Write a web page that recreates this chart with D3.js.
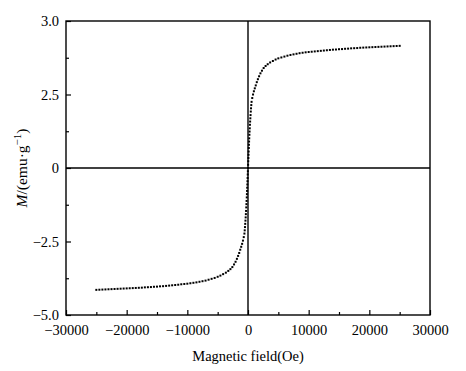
<!DOCTYPE html>
<html>
<head>
<meta charset="utf-8">
<script src="https://cdn.jsdelivr.net/npm/d3@7"></script>
<style>
  body { margin: 0; background: #fff; }
  svg { display: block; }
  text { font-family: "Liberation Serif", "Times New Roman", serif; fill: #000; }
</style>
</head>
<body>
<svg id="chart" width="466" height="371"></svg>
<script>
// measured loop, field in Oe, magnetisation in emu/g
const fieldNeg = [-25000, -24500, -24000, -23500, -23000, -22500, -22000, -21500, -21000, -20500,
    -20000, -19500, -19000, -18500, -18000, -17500, -17000, -16500, -16000, -15500,
    -15000, -14500, -14000, -13500, -13000, -12500, -12000, -11500, -11000, -10500,
    -10000, -9500, -9000, -8500, -8000, -7500, -7000, -6500, -6000, -5500,
    -5000, -4550, -4100, -3650, -3250, -2900, -2580, -2300, -2050, -1830,
    -1630, -1450, -1280, -1120, -970, -830, -700, -588, -540, -497,
    -458, -418, -383, -350, -319, -287, -258, -231, -203, -178,
    -154, -131, -107, -85, -63, -42, -20];
const momentNeg = [-4.145, -4.14, -4.135, -4.13, -4.125, -4.12, -4.115, -4.11, -4.105, -4.10,
    -4.095, -4.09, -4.085, -4.08, -4.075, -4.07, -4.06, -4.055, -4.05, -4.04,
    -4.035, -4.025, -4.02, -4.01, -4.00, -3.99, -3.98, -3.97, -3.955, -3.945,
    -3.935, -3.92, -3.905, -3.89, -3.87, -3.85, -3.83, -3.80, -3.77, -3.74,
    -3.70, -3.66, -3.61, -3.56, -3.50, -3.44, -3.37, -3.28, -3.19, -3.09,
    -2.99, -2.89, -2.78, -2.68, -2.58, -2.47, -2.35, -2.23, -2.12, -2.01,
    -1.90, -1.79, -1.68, -1.57, -1.46, -1.34, -1.23, -1.12, -1.00, -0.89,
    -0.78, -0.67, -0.56, -0.45, -0.34, -0.22, -0.11];

const fieldPos = [0, 20, 42, 63, 85, 107, 131, 154, 178, 203,
    231, 258, 287, 319, 350, 383, 418, 458, 497, 540,
    588, 700, 830, 970, 1120, 1280, 1450, 1630, 1830, 2050,
    2300, 2580, 2900, 3250, 3650, 4100, 4550, 5000, 5500, 6000,
    6500, 7000, 7500, 8000, 8500, 9000, 9500, 10000, 10500, 11000,
    11500, 12000, 12500, 13000, 13500, 14000, 14500, 15000, 15500, 16000,
    16500, 17000, 17500, 18000, 18500, 19000, 19500, 20000, 20500, 21000,
    21500, 22000, 22500, 23000, 23500, 24000, 24500, 25000];
const momentPos = [0, 0.11, 0.23, 0.34, 0.45, 0.56, 0.68, 0.79, 0.90, 1.01,
    1.13, 1.24, 1.35, 1.47, 1.58, 1.69, 1.80, 1.92, 2.03, 2.14,
    2.25, 2.38, 2.50, 2.61, 2.71, 2.81, 2.92, 3.02, 3.12, 3.22,
    3.31, 3.40, 3.47, 3.53, 3.59, 3.64, 3.69, 3.73, 3.76, 3.79,
    3.82, 3.845, 3.865, 3.885, 3.905, 3.92, 3.935, 3.945, 3.955, 3.965,
    3.975, 3.985, 3.995, 4.005, 4.015, 4.025, 4.03, 4.04, 4.045, 4.055,
    4.06, 4.07, 4.075, 4.08, 4.09, 4.095, 4.10, 4.105, 4.11, 4.115,
    4.12, 4.125, 4.13, 4.135, 4.14, 4.145, 4.15, 4.155];

// axis ticks (the top label reads 3.0 in the original figure)
const xTicks = [-30000, -20000, -10000, 0, 10000, 20000, 30000];
const xTickLabels = ["\u221230000", "\u221220000", "\u221210000", "0", "10000", "20000", "30000"];
const xMinor = [-25000, -15000, -5000, 5000, 15000, 25000];
const yTicks = [-5, -2.5, 0, 2.5, 5];
const yTickLabels = ["\u22125.0", "\u22122.5", "0", "2.5", "3.0"];
const yMinor = [-3.75, -1.25, 1.25, 3.75];

const points = fieldNeg.map((h, i) => ({ h: h, m: momentNeg[i] }))
    .concat(fieldPos.map((h, i) => ({ h: h, m: momentPos[i] })));

const plotLeft = 66, plotRight = 430, plotTop = 21, plotBottom = 315;

const svg = d3.select("#chart");

let x = d3.scaleLinear().domain([-30000, 30000]).range([plotLeft, plotRight]);
let y = d3.scaleLinear().domain([-5, 5]).range([plotBottom, plotTop]);

// bottom axis, ticks pointing in
svg.append("g")
    .attr("transform", "translate(0," + plotBottom + ")")
    .call(d3.axisBottom(x)
        .tickValues(xTicks)
        .tickSize(-5)
        .tickPadding(10)
        .tickFormat((d, i) => xTickLabels[i]));

svg.append("g")
    .attr("transform", "translate(0," + plotBottom + ")")
    .call(d3.axisBottom(x).tickValues(xMinor).tickSize(-3).tickFormat(""));

svg.append("g")
    .attr("transform", "translate(" + plotLeft + ",0)")
    .call(d3.axisLeft(y)
        .tickValues(yTicks)
        .tickSize(-5)
        .tickPadding(7)
        .tickFormat((d, i) => yTickLabels[i]));

svg.append("g")
    .attr("transform", "translate(" + plotLeft + ",0)")
    .call(d3.axisLeft(y).tickValues(yMinor).tickSize(-3).tickFormat(""));

svg.selectAll(".domain").remove();
svg.selectAll(".tick line").attr("stroke", "#000").attr("stroke-width", 1.2);
svg.selectAll(".tick text")
    .style("font-family", "'Liberation Serif', serif")
    .style("font-size", "14.5px")
    .attr("fill", "#111");

// frame
svg.append("rect")
    .attr("x", plotLeft)
    .attr("y", plotTop)
    .attr("width", plotRight - plotLeft)
    .attr("height", plotBottom - plotTop)
    .attr("fill", "none")
    .attr("stroke", "#000")
    .attr("stroke-width", 1.4);

// zero lines
svg.append("line")
    .attr("x1", x(0)).attr("x2", x(0))
    .attr("y1", plotTop).attr("y2", plotBottom)
    .attr("stroke", "#000").attr("stroke-width", 1.4);

svg.append("line")
    .attr("x1", plotLeft).attr("x2", plotRight)
    .attr("y1", y(0)).attr("y2", y(0))
    .attr("stroke", "#000").attr("stroke-width", 1.4);

// data points
svg.append("g")
    .selectAll("rect")
    .data(points)
    .enter()
    .append("rect")
    .attr("x", d => x(d.h) - 1)
    .attr("y", d => y(d.m) - 1)
    .attr("width", 2)
    .attr("height", 2)
    .attr("fill", "#000");

// axis titles
svg.append("text")
    .attr("x", (plotLeft + plotRight) / 2)
    .attr("y", 361)
    .attr("text-anchor", "middle")
    .style("font-size", "14.5px")
    .text("Magnetic field(Oe)");

let yTitle = svg.append("text")
    .attr("transform", "translate(27," + ((plotTop + plotBottom) / 2) + ") rotate(-90)")
    .attr("text-anchor", "middle")
    .style("font-size", "15.5px");
yTitle.append("tspan").style("font-style", "italic").text("M");
yTitle.append("tspan").text("/(emu\u00b7g");
yTitle.append("tspan").attr("dy", -6).style("font-size", "11px").text("\u22121");
yTitle.append("tspan").attr("dy", 6).text(")");
</script>
</body>
</html>
